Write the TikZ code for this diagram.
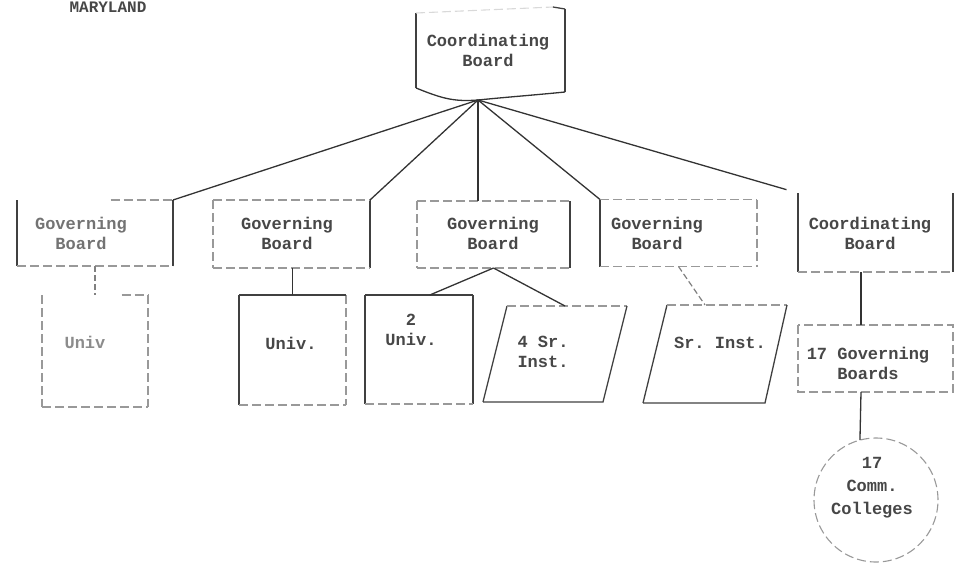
\documentclass[tikz,border=0pt]{standalone}
\usepackage{fontspec}
\setmonofont{Liberation Mono}
\usetikzlibrary{calc}
\begin{document}
\begin{tikzpicture}[x=1pt,y=-1pt,
  lbl/.style={font=\ttfamily\bfseries\fontsize{17}{20}\selectfont, align=center, text=black!72, inner sep=0pt},
  box/.style={inner sep=0pt, outer sep=0pt, draw=none},
  solidedge/.style={draw=black!75, line width=1.3pt},
  faintedge/.style={draw=black!40, line width=1.1pt, dash pattern=on 9pt off 4pt},
  link/.style={draw=black!80, line width=1.3pt},
  faintlink/.style={draw=black!50, line width=1.2pt, dash pattern=on 6pt off 3pt}]

\useasboundingbox (0,0) rectangle (954,563);

% state heading
\node[lbl, anchor=north, font=\ttfamily\bfseries\fontsize{16}{19}\selectfont] (state) at (108,1.5) {MARYLAND};

% ---------- top coordinating board (document shape) ----------
\node[box, minimum width=149pt, minimum height=83pt] (cbt) at (490.5,50.5) {};
\coordinate (hub) at ($(cbt.south)+(-12.5,8)$);
\draw[solidedge] ($(cbt.north west)+(0,4)$) -- ($(cbt.south west)+(0,-4)$);
\draw[solidedge] (cbt.north east) -- (cbt.south east);
\draw[faintedge, draw=black!15] ($(cbt.north west)+(0,4)$) -- ($(cbt.north east)+(-12,-2)$);
\draw[solidedge] ($(cbt.north east)+(-12,-2)$) -- (cbt.north east);
\draw[link] ($(cbt.south west)+(0,-4)$) .. controls ($(cbt.south west)+(25,6)$) and ($(hub)+(-25,2)$) .. (hub)
  .. controls ($(hub)+(30,-3)$) and ($(cbt.south east)+(-30,3)$) .. (cbt.south east);
\node[lbl] (cbt-t) at (488,50) {Coordinating\\Board};

% ---------- second level boxes ----------
\node[box, minimum width=156pt, minimum height=66pt] (gb1) at (95,233) {};
\node[box, minimum width=157pt, minimum height=68pt] (gb2) at (291.5,234) {};
\node[box, minimum width=153pt, minimum height=67pt] (gb3) at (493.5,234.5) {};
\node[box, minimum width=157pt, minimum height=67pt] (gb4) at (678.5,233) {};
\node[box, minimum width=155pt, minimum height=79pt] (cb)  at (875.5,232.5) {};

% Governing Board 1
\draw[solidedge] (gb1.north west) -- (gb1.south west);
\draw[solidedge] (gb1.north east) -- (gb1.south east);
\draw[faintedge] ($(gb1.north west)!0.6!(gb1.north east)$) -- (gb1.north east);
\draw[faintedge] (gb1.south west) -- (gb1.south east);
\node[lbl, text=black!55] (gb1-t) at (81,233) {Governing\\Board};

% Governing Board 2
\draw[faintedge] (gb2.north west) -- (gb2.south west);
\draw[solidedge] (gb2.north east) -- (gb2.south east);
\draw[faintedge] (gb2.north west) -- (gb2.north east);
\draw[faintedge] (gb2.south west) -- (gb2.south east);
\node[lbl] (gb2-t) at (287,233) {Governing\\Board};

% Governing Board 3
\draw[faintedge] (gb3.north west) -- (gb3.south west);
\draw[solidedge] (gb3.north east) -- (gb3.south east);
\draw[faintedge] (gb3.north west) -- (gb3.north east);
\draw[faintedge] (gb3.south west) -- (gb3.south east);
\node[lbl] (gb3-t) at (493,233) {Governing\\Board};

% Governing Board 4
\draw[solidedge] (gb4.north west) -- (gb4.south west);
\draw[faintedge] (gb4.north east) -- (gb4.south east);
\draw[faintedge] (gb4.north west) -- (gb4.north east);
\draw[faintedge] (gb4.south west) -- (gb4.south east);
\node[lbl] (gb4-t) at (657,233) {Governing\\Board};

% Coordinating Board (right)
\draw[solidedge] (cb.north west) -- (cb.south west);
\draw[solidedge] (cb.north east) -- (cb.south east);
\draw[faintedge] (cb.south west) -- (cb.south east);
\node[lbl] (cb-t) at (870,233) {Coordinating\\Board};

% ---------- links from the top board ----------
\draw[link] (hub) -- (gb1.north east);
\draw[link] (hub) -- (gb2.north east);
\draw[link] (hub) -- (hub |- gb3.north);
\draw[link] (hub) -- (gb4.north west);
\draw[link, shorten >=12pt] (hub) -- (cb.north west);

% ---------- third level ----------
\node[box, minimum width=106pt, minimum height=112pt] (u1) at (95,351) {};
\node[box, minimum width=107pt, minimum height=110pt] (u2) at (292.5,350) {};
\node[box, minimum width=108pt, minimum height=109pt] (u3) at (419,349.5) {};
\node[box, minimum width=144pt, minimum height=96pt]  (p4) at (555,354) {};
\node[box, minimum width=144pt, minimum height=98pt]  (sr) at (715,354) {};
\node[box, minimum width=155pt, minimum height=67pt]  (gb17) at (875.5,358.5) {};
\node[box, circle, minimum size=124pt, faintedge] (cc) at (876,500) {};
\coordinate (spine) at (861,0);

% Univ. under board 1
\draw[faintedge] (u1.north west) -- (u1.south west);
\draw[faintedge] (u1.north east) -- (u1.south east);
\draw[faintedge] ($(u1.north west)!0.75!(u1.north east)$) -- (u1.north east);
\draw[faintedge] (u1.south west) -- (u1.south east);
\node[lbl, text=black!45] (u1-t) at (85,342) {Univ};

% Univ. under board 2
\draw[solidedge] (u2.north west) -- (u2.south west);
\draw[faintedge] (u2.north east) -- (u2.south east);
\draw[solidedge] (u2.north west) -- (u2.north east);
\draw[faintedge] (u2.south west) -- (u2.south east);
\node[lbl] (u2-t) at (291,343) {Univ.};

% 2 Univ. under board 3
\draw[solidedge] (u3.north west) -- (u3.south west);
\draw[solidedge] (u3.north east) -- (u3.south east);
\draw[solidedge] (u3.north west) -- (u3.north east);
\draw[faintedge] (u3.south west) -- (u3.south east);
\node[lbl] (u3-t) at (411,330) {2\\Univ.};

% 4 Sr. Inst. (parallelogram)
\draw[solidedge] (p4.south west) -- ($(p4.north west)+(24,0)$);
\draw[faintedge] ($(p4.north west)+(24,0)$) -- (p4.north east);
\draw[solidedge] (p4.north east) -- ($(p4.south east)+(-24,0)$) -- (p4.south west);
\node[lbl] (p4-t) at (543,352) {4 Sr.\\Inst.};

% Sr. Inst. (parallelogram)
\draw[solidedge] (sr.south west) -- ($(sr.north west)+(24,0)$);
\draw[faintedge] ($(sr.north west)+(24,0)$) -- (sr.north east);
\draw[solidedge] (sr.north east) -- ($(sr.south east)+(-22,0)$) -- (sr.south west);
\node[lbl] (sr-t) at (720,343) {Sr. Inst.};

% 17 Governing Boards
\draw[faintedge] (gb17.north west) rectangle (gb17.south east);
\node[lbl] (gb17-t) at (868,363) {17 Governing\\Boards};

% 17 Comm. Colleges
\node[lbl, font=\ttfamily\bfseries\fontsize{17}{23}\selectfont] (cc-t) at (872,488) {17\\Comm.\\Colleges};

% ---------- lower links ----------
\draw[faintlink] (gb1.south) -- (u1.north);
\draw[link] (gb2.south -| u2.north) -- (u2.north);
\draw[link] (gb3.south) -- ($(u3.north west)!0.6!(u3.north east)$);
\draw[link] (gb3.south) -- ($(p4.north)+(10,0)$);
\draw[faintlink] (gb4.south) -- ($(sr.north)+(-10,0)$);
\draw[link] (cb.south -| spine) -- (gb17.north -| spine);
\draw[link] (gb17.south -| spine) -- (cc.105);
\end{tikzpicture}
\end{document}
